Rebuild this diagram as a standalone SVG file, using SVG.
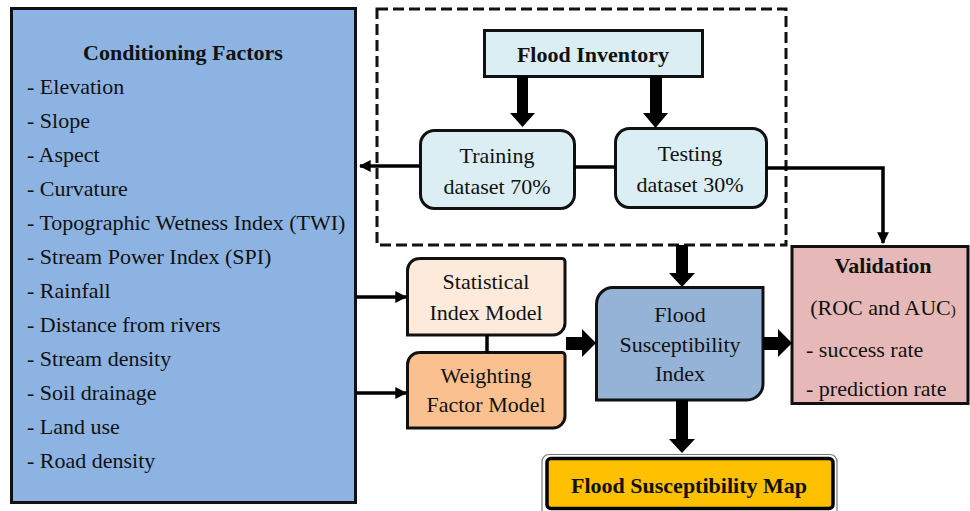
<svg xmlns="http://www.w3.org/2000/svg" width="970" height="511" viewBox="0 0 970 511">
<style>
  text { font-family: "Liberation Serif", "Times New Roman", serif; fill: #111; }
  .t { font-size: 22px; }
  .b { font-weight: bold; }
  .box { stroke: #111; stroke-width: 3; }
  .ln { stroke: #000; stroke-width: 3.5; fill: none; }
  .fat { fill: #000; }
</style>
<defs>
  <marker id="ah" viewBox="0 0 10 10" refX="9" refY="5" markerWidth="3.4" markerHeight="3.4" markerUnits="strokeWidth" orient="auto">
    <path d="M0,0 L10,5 L0,10 Z" fill="#000"/>
  </marker>
</defs>
<rect width="970" height="511" fill="#fff"/>

<g id="conditioning-factors">
  <rect class="box" x="11.5" y="8.5" width="344" height="494" fill="#8DB3E2"/>
  <text class="t b" x="183" y="60" text-anchor="middle">Conditioning Factors</text>
  <text class="t" x="27" y="94">- Elevation</text>
  <text class="t" x="27" y="128">- Slope</text>
  <text class="t" x="27" y="162">- Aspect</text>
  <text class="t" x="27" y="196">- Curvature</text>
  <text class="t" x="27" y="230">- Topographic Wetness Index (TWI)</text>
  <text class="t" x="27" y="264">- Stream Power Index (SPI)</text>
  <text class="t" x="27" y="298">- Rainfall</text>
  <text class="t" x="27" y="332">- Distance from rivers</text>
  <text class="t" x="27" y="366">- Stream density</text>
  <text class="t" x="27" y="400">- Soil drainage</text>
  <text class="t" x="27" y="434">- Land use</text>
  <text class="t" x="27" y="468">- Road density</text>
</g>

<g id="split-group">
  <rect x="377" y="9" width="409" height="236" fill="none" stroke="#111" stroke-width="3" stroke-dasharray="11 5"/>
</g>

<g id="flood-inventory">
  <rect class="box" x="484.5" y="30.5" width="218" height="46" fill="#DAEEF3"/>
  <text class="t b" x="593" y="62" text-anchor="middle">Flood Inventory</text>
</g>

<g id="training">
  <rect class="box" x="420.5" y="130.5" width="154" height="78" rx="14" fill="#DAEEF3"/>
  <text class="t" x="497" y="163" text-anchor="middle">Training</text>
  <text class="t" x="497" y="194" text-anchor="middle">dataset 70%</text>
</g>

<g id="testing">
  <rect class="box" x="615.5" y="128.5" width="151" height="79" rx="14" fill="#DAEEF3"/>
  <text class="t" x="690" y="161" text-anchor="middle">Testing</text>
  <text class="t" x="690" y="192" text-anchor="middle">dataset 30%</text>
</g>

<g id="statistical-index">
  <path class="box" d="M419,258.5 H562 A3,3 0 0 1 565,261.5 V323 A12,12 0 0 1 553,335 H407.5 V270.5 A12,12 0 0 1 419.5,258.5 Z" fill="#FDEADA"/>
  <text class="t" x="486" y="289" text-anchor="middle">Statistical</text>
  <text class="t" x="486" y="320" text-anchor="middle">Index Model</text>
</g>

<g id="weighting-factor">
  <path class="box" d="M419,352.5 H562 A3,3 0 0 1 565,355.5 V416 A12,12 0 0 1 553,428 H407.5 V364.5 A12,12 0 0 1 419.5,352.5 Z" fill="#FAC090"/>
  <text class="t" x="486" y="383" text-anchor="middle">Weighting</text>
  <text class="t" x="486" y="412" text-anchor="middle">Factor Model</text>
</g>

<g id="flood-susceptibility-index">
  <path class="box" d="M613,287.5 H763 V384 A16,16 0 0 1 747,400 H596.5 V304 A16.5,16.5 0 0 1 613,287.5 Z" fill="#95B3D7"/>
  <text class="t" x="680" y="322" text-anchor="middle">Flood</text>
  <text class="t" x="680" y="352" text-anchor="middle">Susceptibility</text>
  <text class="t" x="680" y="381" text-anchor="middle">Index</text>
</g>

<g id="validation">
  <rect class="box" x="792" y="246.5" width="176" height="157" fill="#E6B9B8"/>
  <text class="t b" x="883" y="273" text-anchor="middle">Validation</text>
  <text class="t" x="883" y="315" text-anchor="middle">(ROC and AUC<tspan font-size="15">)</tspan></text>
  <text class="t" x="806" y="357">- success rate</text>
  <text class="t" x="806" y="396">- prediction rate</text>
</g>

<g id="flood-susceptibility-map">
  <rect x="542" y="454.5" width="295" height="62" rx="7" fill="#fff" stroke="#777" stroke-width="1.2"/>
  <rect x="547" y="458.5" width="286" height="50" rx="4" fill="#FFC000" stroke="#000" stroke-width="3.5"/>
  <text class="t b" x="689" y="493" text-anchor="middle">Flood Susceptibility Map</text>
</g>

<g id="connectors">
  <polygon class="fat" points="517,76 528,76 528,113 535,113 522.5,127 510,113 517,113"/>
  <polygon class="fat" points="650,76 662,76 662,113 668,113 655.5,128 643,113 650,113"/>
  <polygon class="fat" points="676,245 688,245 688,273 695,273 682,287 669,273 676,273"/>
  <polygon class="fat" points="676,400 688,400 688,439 695,439 682,453 669,439 676,439"/>
  <polygon class="fat" points="566,337 582,337 582,329 596,343 582,357 582,350 566,350"/>
  <polygon class="fat" points="763,337 778,337 778,329 792,343 778,357 778,350 763,350"/>
  <line class="ln" x1="420" y1="166" x2="360" y2="166" marker-end="url(#ah)"/>
  <line class="ln" x1="574" y1="167" x2="616" y2="167"/>
  <polyline class="ln" points="766,168 883,168 883,243" marker-end="url(#ah)"/>
  <line class="ln" x1="356" y1="297" x2="406" y2="297" marker-end="url(#ah)"/>
  <line class="ln" x1="356" y1="393" x2="406" y2="393" marker-end="url(#ah)"/>
  <line class="ln" x1="487" y1="335" x2="487" y2="353"/>
</g>
</svg>
